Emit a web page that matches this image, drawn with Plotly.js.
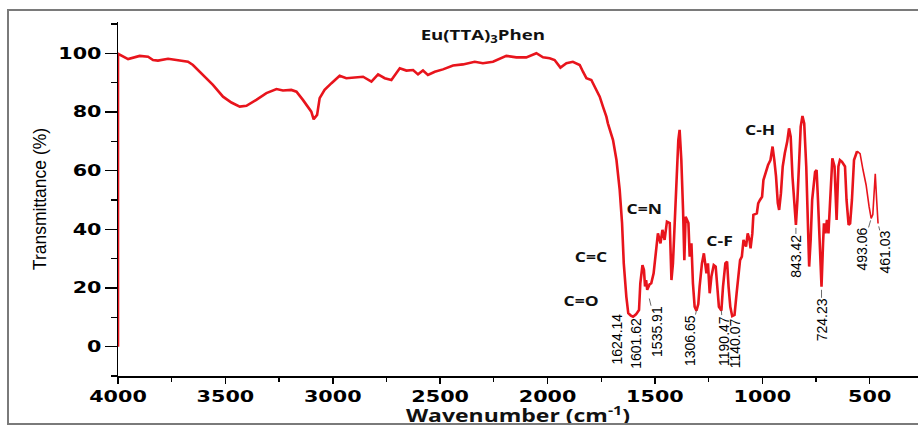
<!DOCTYPE html>
<html>
<head>
<meta charset="utf-8">
<script src="https://cdn.plot.ly/plotly-3.0.1.min.js"></script>
<style>
  html, body { margin: 0; padding: 0; background: #fff; }
  #wrap { position: relative; width: 918px; height: 427px; overflow: hidden; }
  #chart { position: absolute; left: 0; top: 0; width: 918px; height: 427px; }
  #frame { position: absolute; left: 7px; top: 9px; width: 1000px; height: 416px;
           box-sizing: border-box; border: 2px solid #7a7a7a; pointer-events: none; }
</style>
</head>
<body>
<div id="wrap">
  <div id="chart"></div>
  <div id="frame"></div>
</div>
<script>
// FTIR spectrum of Eu(TTA)3Phen: wavenumber (cm-1) and transmittance (%)
const wavenumber = [
  4000, 4000, 3953, 3899, 3860, 3837, 3814, 3767, 3728, 3674, 3651, 3604, 3558, 3511,
  3472, 3433, 3402, 3356, 3309, 3262, 3232, 3193, 3169, 3139, 3115, 3100, 3089, 3073,
  3061, 3038, 3006, 2968, 2937, 2883, 2859, 2820, 2789, 2758, 2727, 2688, 2657, 2626,
  2603, 2580, 2557, 2525, 2487, 2440, 2394, 2339, 2301, 2254, 2192, 2145, 2099, 2052,
  2021, 1990, 1967, 1940, 1912, 1882, 1850, 1835, 1819, 1796, 1773, 1757, 1742, 1726,
  1719, 1695, 1679, 1664, 1653, 1645, 1633, 1624.14, 1612, 1601.62, 1588, 1574, 1568,
  1558, 1551, 1546, 1541, 1535.91, 1525, 1517, 1506, 1493, 1486, 1474, 1465, 1455, 1444,
  1431, 1426, 1423, 1416, 1408, 1397, 1391, 1385, 1377, 1369, 1363, 1357, 1344, 1338,
  1330, 1323, 1315, 1306.65, 1298, 1292, 1281, 1272, 1260, 1253, 1245, 1237, 1226, 1217,
  1209, 1202, 1190.47, 1183, 1172, 1164, 1157, 1149, 1140.07, 1129.3, 1119.6, 1103.5,
  1095.2, 1087.4, 1075.7, 1067.9, 1059.6, 1054.7, 1046.4, 1041.5, 1025.4, 1019.1, 1010.8,
  1001.0, 994.7, 986.4, 973.2, 962.0, 952.2, 944.0, 936.1, 927.8, 921.5, 913.2, 904.9,
  895.2, 883.9, 875.6, 867.8, 859.5, 849.8, 843.42, 836.4, 829.4, 821.2, 813.0, 804.8,
  795.3, 788.3, 781.8, 774.8, 767.8, 754.2, 747.2, 740.7, 733.7, 729.6, 724.23, 717.1,
  712.9, 705.7, 699.0, 691.9, 680.5, 673.8, 663.7, 654.0, 645.6, 638.5, 628.8, 614.9,
  607.8, 598.1, 591.0, 582.6, 572.9, 558.6, 544.7, 530.9, 516.6, 502.7, 493.06, 485.4,
  480.1, 474.0, 467.5, 461.03
];
const transmittance = [
  0, 99.8, 98.0, 99.1, 98.8, 97.7, 97.5, 98.1, 97.7, 97.1, 96.0, 92.6, 89.2, 85.2,
  83.2, 81.8, 82.1, 84.1, 86.4, 87.8, 87.3, 87.5, 86.9, 84.1, 81.8, 80.1, 77.5, 79.0,
  84.7, 87.5, 89.8, 92.3, 91.5, 91.8, 92.0, 90.3, 92.8, 91.5, 90.9, 94.9, 94.1, 94.3,
  92.8, 94.1, 92.6, 93.7, 94.5, 95.8, 96.2, 97.1, 96.6, 97.1, 99.1, 98.6, 98.6, 100.0,
  98.6, 98.3, 97.7, 95.1, 96.6, 97.1, 96.0, 93.7, 91.5, 90.9, 87.5, 85.2, 81.8, 78.4,
  76.1, 70.4, 63.6, 53.4, 42.1, 28.4, 17.0, 11.4, 10.6, 10.2, 11.0, 12.5, 21.6,
  27.8, 26.1, 20.5, 22.7, 19.4, 21.2, 21.6, 25.0, 33.0, 38.6, 35.2, 39.8, 36.4, 42.6,
  42.1, 30.0, 22.7, 28.4, 42.1, 55.7, 70.4, 73.9, 63.6, 46.6, 29.5, 44.3, 42.1, 30.7,
  35.2, 21.6, 13.6, 12.3, 14.5, 20.4, 28.4, 31.8, 25.0, 28.4, 18.2, 23.9, 27.8, 27.3,
  19.3, 13.6, 12.3, 20.4, 28.4, 29.0, 20.4, 13.6, 10.4, 10.8, 18.2, 29.5,
  30.7, 36.4, 34.1, 38.6, 36.4, 33.5, 38.6, 44.9, 45.4, 48.8, 50.0,
  51.1, 56.8, 59.1, 61.9, 63.6, 68.2, 63.6, 58.0, 48.9, 46.6, 52.3, 61.4,
  65.9, 69.9, 74.4, 71.6, 58.0, 45.5, 41.5, 50.0, 63.6, 75.0, 78.6, 76.1,
  61.4, 38.6, 27.3, 36.4, 50.0, 59.5, 60.2, 50.0, 38.6, 31.8, 20.4, 35.2,
  42.0, 38.6, 43.2, 38.6, 58.0, 64.2, 61.4, 43.2, 61.4, 63.6, 63.0, 61.4,
  50.0, 41.5, 42.0, 50.0, 63.6, 66.6, 65.8, 60.2, 55.1, 47.7, 43.7, 45.0,
  52.3, 58.9, 50.0, 42.0
];

// Assigned absorption bands (cm-1)
const peakWavenumbers = [1624.14, 1601.62, 1535.91, 1306.65, 1190.47, 1140.07, 843.42, 724.23, 493.06, 461.03];

// Functional-group captions
const bandNames = ['C=O', 'C=C', 'C=N', 'C-F', 'C-H'];

// Axis ticks
const xTickValues = [4000, 3500, 3000, 2500, 2000, 1500, 1000, 500];
const yTickValues = [0, 20, 40, 60, 80, 100];

// Placement of each band label relative to its absorption minimum (px):
// [dx, dy, leader line, standoff]
const peakLabelPlacement = [
  [-11, 26, false, 0],
  [3, 27, false, 0],
  [10, 42, true, 9],
  [-7, 30, true, 0],
  [2, 30, true, 0],
  [3, 27, false, 0],
  [0, 31, true, 3],
  [0, 33, true, 3],
  [-9, 31, true, 2],
  [7, 29, true, 3]
];

// Caption positions in paper coordinates
const bandNamePlacement = [
  [0.579, 0.213], [0.591, 0.337], [0.657, 0.474], [0.752, 0.382], [0.802, 0.697]
];

const labelFont = { family: 'Liberation Sans, Arial, sans-serif', size: 14, color: '#000' };
const boldFont = { family: 'Open Sans, sans-serif', size: 14, color: '#111', weight: 700 };

const annotations = [];
peakWavenumbers.forEach((wn, i) => {
  const idx = wavenumber.indexOf(wn);
  const t = transmittance[idx];
  const [dx, dy, leader, standoff] = peakLabelPlacement[i];
  const base = { x: wn, y: t, xref: 'x', yref: 'y', text: wn.toFixed(2), textangle: -90, font: labelFont };
  if (leader) {
    annotations.push(Object.assign(base, {
      showarrow: true, arrowhead: 0, arrowwidth: 0.8, arrowcolor: '#444',
      ax: dx, ay: dy, standoff: standoff, borderpad: 0
    }));
  } else {
    annotations.push(Object.assign(base, { showarrow: false, xshift: dx, yshift: -dy }));
  }
});
bandNames.forEach((name, i) => {
  annotations.push({
    x: bandNamePlacement[i][0], y: bandNamePlacement[i][1], xref: 'paper', yref: 'paper',
    text: name, showarrow: false, font: boldFont, xanchor: 'center', yanchor: 'middle'
  });
});

// The far end of the scan is drawn with a finer stroke
const split = wavenumber.indexOf(558.6);
const red = '#e8141c';
const traces = [
  {
    x: wavenumber.slice(0, split + 1), y: transmittance.slice(0, split + 1),
    type: 'scatter', mode: 'lines', line: { color: red, width: 2.6 }, hoverinfo: 'skip'
  },
  {
    x: wavenumber.slice(split), y: transmittance.slice(split),
    type: 'scatter', mode: 'lines', line: { color: red, width: 1.6 }, hoverinfo: 'skip'
  }
];

const tickFont = { family: 'DejaVu Sans, sans-serif', size: 15, color: '#000', weight: 700 };

const layout = {
  width: 918, height: 427,
  margin: { l: 118, r: 0, t: 22, b: 51 },
  paper_bgcolor: '#fff', plot_bgcolor: '#fff',
  showlegend: false,
  title: {
    text: 'Eu(TTA)<sub>3</sub>Phen',
    font: { family: 'Open Sans, sans-serif', size: 14, color: '#111', weight: 700 },
    x: 0.456, xref: 'paper', xanchor: 'center', y: 0.918, yanchor: 'middle'
  },
  xaxis: {
    range: [4000, 275], autorange: false,
    tickvals: xTickValues, ticktext: xTickValues.map(String),
    ticks: 'outside', ticklen: 6, tickwidth: 1.5, tickcolor: '#000',
    minor: { ticks: 'outside', ticklen: 4, tickwidth: 1.2, tickcolor: '#000', dtick: 250, tick0: 0, showgrid: false },
    showline: true, linecolor: '#000', linewidth: 1.5,
    showgrid: false, zeroline: false, tickfont: tickFont,
    title: { text: 'Wavenumber (cm<sup>-1</sup>)', standoff: 4,
             font: { family: 'Open Sans, sans-serif', size: 17, color: '#111', weight: 700 } }
  },
  yaxis: {
    range: [-10, 110.65], autorange: false,
    tickvals: yTickValues, ticktext: yTickValues.map(String),
    ticks: 'outside', ticklen: 12, tickwidth: 1.5, tickcolor: '#000',
    minor: { ticks: 'outside', ticklen: 6, tickwidth: 1.2, tickcolor: '#000', dtick: 10, tick0: 0, showgrid: false },
    showline: true, linecolor: '#000', linewidth: 1.5, layer: 'below traces',
    showgrid: false, zeroline: false, tickfont: tickFont,
    title: { text: 'Transmittance (%)', standoff: 19,
             font: { family: 'Liberation Sans, Arial, sans-serif', size: 17.5, color: '#000' } }
  },
  annotations: annotations
};

// Horizontal lettering is set wide: stretch glyphs along the baseline
function widen(el, k) {
  if (!el) return;
  const w = el.getComputedTextLength();
  if (w > 0) {
    el.setAttribute('textLength', (w * k).toFixed(1));
    el.setAttribute('lengthAdjust', 'spacingAndGlyphs');
  }
}

Plotly.newPlot('chart', traces, layout, { staticPlot: true, displayModeBar: false }).then(gd => {
  gd.querySelectorAll('.xtick text, .ytick text').forEach(t => widen(t, 1.38));
  widen(gd.querySelector('.gtitle'), 1.33);
  gd.querySelectorAll('.xtitle').forEach(t => widen(t, 1.35));
  gd.querySelectorAll('.annotation-text').forEach(t => {
    if (/^C[=-]/.test(t.textContent)) widen(t, 1.25);
  });
});
</script>
</body>
</html>
